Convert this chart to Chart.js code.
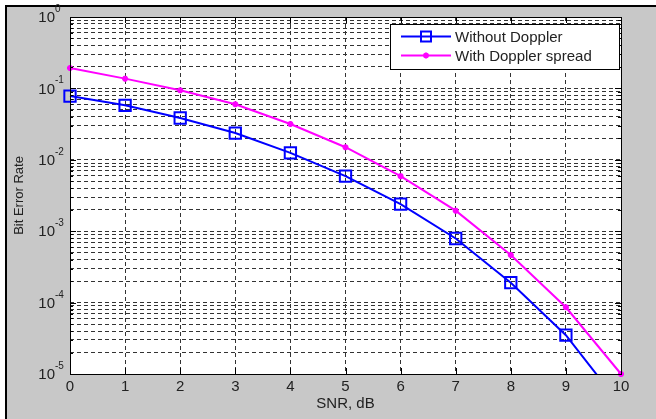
<!DOCTYPE html>
<html lang="en">
  <head>
    <meta charset="UTF-8" />
    <title>Bit Error Rate vs SNR</title>
    <script src="https://cdn.jsdelivr.net/npm/chart.js"></script>
    <style>
      html, body { margin: 0; padding: 0; background: #fff; }
      canvas { display: block; }
    </style>
  </head>
  <body>
    <canvas id="ber-chart" width="656" height="419"></canvas>

    <script>
      // values
      const snr = [0, 1, 2, 3, 4, 5, 6, 7, 8, 9, 10];
      const berNoDoppler = [0.078, 0.058, 0.0385, 0.0237, 0.0125, 0.0059, 0.0024, 0.00079, 0.00019, 0.000035, 0.0000036];
      const berDoppler = [0.193, 0.137, 0.094, 0.06, 0.0317, 0.015, 0.0059, 0.00194, 0.000464, 0.000086, 0.00001];
      const seriesLabels = ["Without Doppler", "With Doppler spread"];
      const yExponents = [0, -1, -2, -3, -4, -5];
      const xTicks = [0, 1, 2, 3, 4, 5, 6, 7, 8, 9, 10];

      const FONT = '"Liberation Sans", Arial, sans-serif';
      const BLUE = "#0000ff";
      const MAGENTA = "#ff00ff";

      function drawStar(c, x, y, r) {
        c.beginPath();
        c.moveTo(x - r, y); c.lineTo(x + r, y);
        c.moveTo(x, y - r); c.lineTo(x, y + r);
        c.moveTo(x - r * 0.7, y - r * 0.7); c.lineTo(x + r * 0.7, y + r * 0.7);
        c.moveTo(x - r * 0.7, y + r * 0.7); c.lineTo(x + r * 0.7, y - r * 0.7);
        c.stroke();
      }

      const figurePlugin = {
        id: "figure",
        beforeDraw(chart) {
          const c = chart.ctx;
          const a = chart.chartArea;
          c.save();
          c.fillStyle = "#fff";
          c.fillRect(0, 0, chart.width, chart.height);
          c.fillStyle = "#c8c8c8";
          c.fillRect(7, 7, chart.width, chart.height);
          c.fillStyle = "#000";
          c.fillRect(5, 5, chart.width, 2);
          c.fillRect(5, 5, 2, chart.height);
          c.fillStyle = "#fff";
          c.fillRect(a.left, a.top, a.right - a.left, a.bottom - a.top);
          c.restore();
        },
        afterDraw(chart) {
          const c = chart.ctx;
          const a = chart.chartArea;
          const xs = chart.scales.x;
          const ys = chart.scales.y;
          c.save();

          // inward tick marks
          c.strokeStyle = "#000";
          c.lineWidth = 1;
          c.beginPath();
          ys.ticks.forEach((t) => {
            const y = Math.round(ys.getPixelForValue(t.value)) + 0.5;
            const len = Number.isInteger(Math.log10(t.value)) ? 6 : 3;
            c.moveTo(a.left, y); c.lineTo(a.left + len, y);
            c.moveTo(a.right, y); c.lineTo(a.right - len, y);
          });
          xTicks.forEach((v) => {
            const x = Math.round(xs.getPixelForValue(v)) + 0.5;
            c.moveTo(x, a.bottom); c.lineTo(x, a.bottom - 6);
            c.moveTo(x, a.top); c.lineTo(x, a.top + 6);
          });
          c.stroke();

          // axes box
          c.strokeRect(Math.round(a.left) + 0.5, Math.round(a.top) + 0.5,
            Math.round(a.right - a.left), Math.round(a.bottom - a.top));

          // y tick labels with exponents
          c.fillStyle = "#222";
          yExponents.forEach((k) => {
            const y = ys.getPixelForValue(Math.pow(10, k));
            c.font = "15px " + FONT;
            c.textAlign = "right";
            c.textBaseline = "middle";
            c.fillText("10", 55, y + 1);
            c.font = "10px " + FONT;
            c.textAlign = "left";
            c.textBaseline = "alphabetic";
            c.fillText(k === 0 ? "0" : "-" + -k, 55, y - 5);
          });

          // x tick labels
          c.font = "15px " + FONT;
          c.textAlign = "center";
          c.textBaseline = "middle";
          xTicks.forEach((v) => {
            c.fillText(String(v), xs.getPixelForValue(v), 387);
          });

          // axis titles
          c.fillText("SNR, dB", (a.left + a.right) / 2, 404);
          c.save();
          c.translate(19, (a.top + a.bottom) / 2);
          c.rotate(-Math.PI / 2);
          c.font = "13px " + FONT;
          c.fillText("Bit Error Rate", 0, 0);
          c.restore();

          // legend
          const lx = 390, ly = 24, lw = 229, lh = 45;
          c.fillStyle = "#fff";
          c.fillRect(lx, ly, lw, lh);
          c.strokeStyle = "#000";
          c.strokeRect(lx + 0.5, ly + 0.5, lw, lh);
          const rows = [
            { y: 36.5, color: BLUE, label: seriesLabels[0], marker: "rect" },
            { y: 55.5, color: MAGENTA, label: seriesLabels[1], marker: "star" },
          ];
          rows.forEach((r) => {
            c.strokeStyle = r.color;
            c.lineWidth = 2;
            c.beginPath();
            c.moveTo(401, r.y); c.lineTo(451, r.y);
            c.stroke();
            if (r.marker === "rect") {
              c.strokeRect(421, r.y - 5, 10, 10);
            } else {
              drawStar(c, 426, r.y, 3);
            }
            c.fillStyle = "#222";
            c.font = "15px " + FONT;
            c.textAlign = "left";
            c.textBaseline = "middle";
            c.fillText(r.label, 455, r.y + 1);
          });

          c.restore();
        },
      };

      const ctx = document.getElementById("ber-chart").getContext("2d");
      new Chart(ctx, {
        type: "line",
        data: {
          labels: snr,
          datasets: [
            {
              label: seriesLabels[0],
              data: snr.map((x, i) => ({ x, y: berNoDoppler[i] })),
              borderColor: BLUE,
              backgroundColor: "rgba(0,0,0,0)",
              borderWidth: 2,
              pointStyle: "rect",
              pointRadius: 8,
              pointBorderWidth: 2,
              pointBorderColor: BLUE,
              pointBackgroundColor: "rgba(0,0,0,0)",
              tension: 0,
              clip: { left: 12, top: 12, right: 12, bottom: 0 },
            },
            {
              label: seriesLabels[1],
              data: snr.map((x, i) => ({ x, y: berDoppler[i] })),
              borderColor: MAGENTA,
              backgroundColor: MAGENTA,
              borderWidth: 2,
              pointStyle: "star",
              pointRadius: 3,
              pointBorderWidth: 2,
              pointBorderColor: MAGENTA,
              tension: 0,
              clip: false,
            },
          ],
        },
        options: {
          responsive: false,
          animation: false,
          devicePixelRatio: 1,
          layout: { padding: { left: 70, top: 17, right: 35, bottom: 45 } },
          plugins: {
            legend: { display: false },
            tooltip: { enabled: false },
          },
          scales: {
            x: {
              type: "linear",
              min: 0,
              max: 10,
              afterBuildTicks: (scale) => {
                scale.ticks = xTicks.map((v) => ({ value: v }));
              },
              ticks: { display: false },
              grid: { color: "#333", lineWidth: 1, drawTicks: false },
              border: { display: false, dash: [4, 3] },
            },
            y: {
              type: "logarithmic",
              min: 1e-5,
              max: 1,
              afterBuildTicks: (scale) => {
                const ticks = [];
                for (let e = -5; e < 0; e++) {
                  for (let m = 1; m < 10; m++) ticks.push({ value: m * Math.pow(10, e) });
                }
                ticks.push({ value: 1 });
                scale.ticks = ticks;
              },
              ticks: { display: false, autoSkip: false },
              grid: { color: "#333", lineWidth: 1, drawTicks: false },
              border: { display: false, dash: [4, 3] },
            },
          },
        },
        plugins: [figurePlugin],
      });
    </script>
  </body>
</html>
